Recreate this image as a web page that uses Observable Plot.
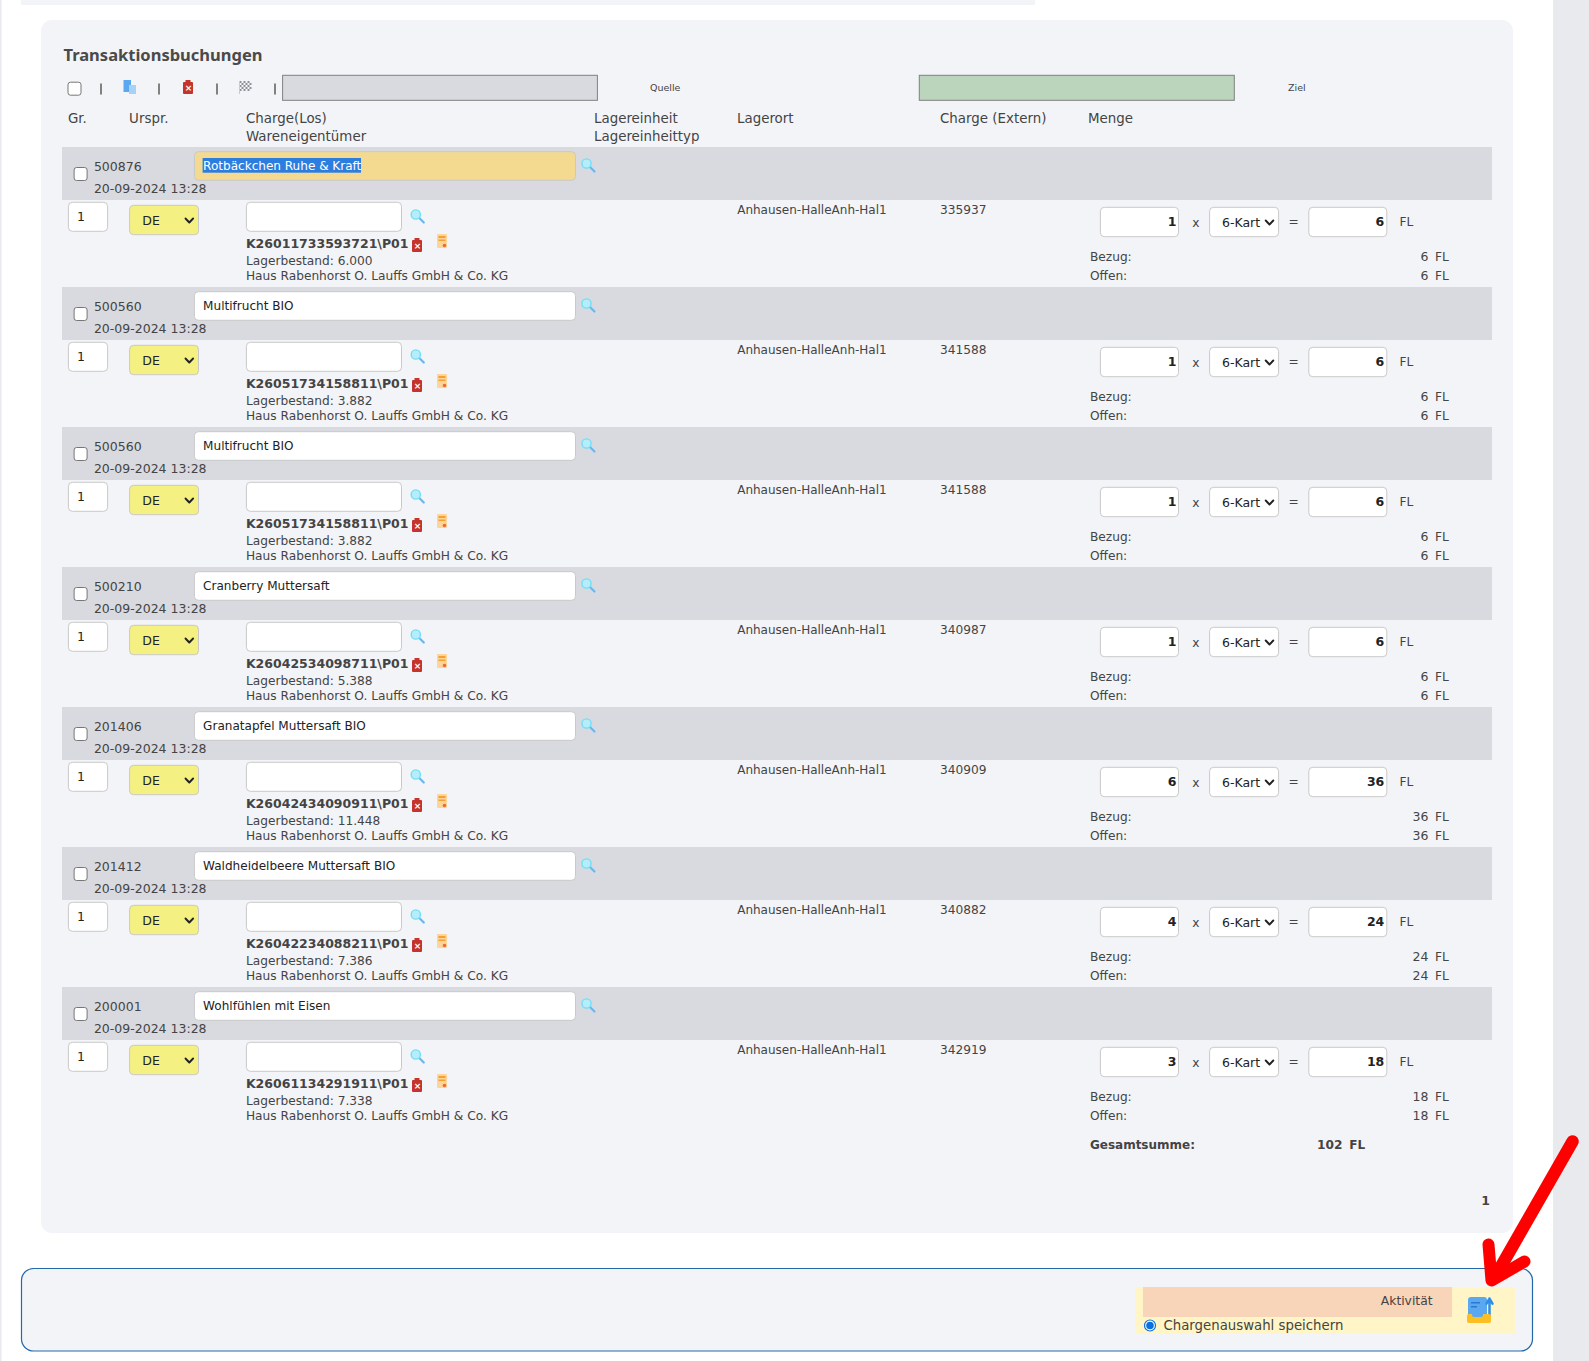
<!DOCTYPE html>
<html><head><meta charset="utf-8">
<style>html,body{margin:0;padding:0;background:#fff;overflow:hidden}svg{display:block}</style>
<script src="https://cdn.jsdelivr.net/npm/d3@7"></script>
<script src="https://cdn.jsdelivr.net/npm/@observablehq/plot@0.6"></script>
</head><body><div id="c"></div>
<script>
// ---- values ----
const codes = ["500876","500560","500560","500210","201406","201412","200001"];
const names = ["Rotbäckchen Ruhe & Kraft","Multifrucht BIO","Multifrucht BIO","Cranberry Muttersaft","Granatapfel Muttersaft BIO","Waldheidelbeere Muttersaft BIO","Wohlfühlen mit Eisen"];
const charges = ["K26011733593721\\P01","K26051734158811\\P01","K26051734158811\\P01","K26042534098711\\P01","K26042434090911\\P01","K26042234088211\\P01","K26061134291911\\P01"];
const stocks = ["6.000","3.882","3.882","5.388","11.448","7.386","7.338"];
const externs = ["335937","341588","341588","340987","340909","340882","342919"];
const quantities = [1,1,1,1,6,4,3];
const totals = [6,6,6,6,36,24,18];
const rowDate = "20-09-2024 13:28";
const rowOwner = "Haus Rabenhorst O. Lauffs GmbH & Co. KG";
const rowPlace = "Anhausen-HalleAnh-Hal1";
const headers1 = ["Gr.","Urspr.","Charge(Los)","Lagereinheit","Lagerort","Charge (Extern)","Menge"];
const headers2 = ["Wareneigentümer","Lagereinheittyp"];

// ---- layout ----
const W = 1589, H = 1361;
const F = "DejaVu Sans";
const rowTop = d3.scaleLinear().domain([0,1]).range([147,287]);
const rows = codes.map((code,i)=>({i,code,name:names[i],charge:charges[i],stock:stocks[i],ext:externs[i],q:quantities[i],t:totals[i]}));
const yr = off => d => rowTop(d.i)+off;
const C = {gray:"#d9dadf",panel:"#f3f4f8",border:"#c9c9c9",text:"#444"};

const box = (x1,x2,y1,y2,o={}) => Plot.rect([0],{x1:()=>x1,x2:()=>x2,y1:()=>y1,y2:()=>y2,...o});
const rowBox = (x1,x2,o1,o2,o={}) => Plot.rect(rows,{x1:()=>x1,x2:()=>x2,y1:yr(o1),y2:yr(o2),rx:4,fill:"#fff",stroke:C.border,strokeWidth:1,...o});
const label = (s,x,y,o={}) => Plot.text([s],{x:()=>x,y:()=>y,text:d=>d,textAnchor:"start",fontFamily:F,fontSize:12.2,fill:C.text,...o});
const rowText = (f,x,off,o={}) => Plot.text(rows,{x:()=>x,y:yr(off),text:f,textAnchor:"start",fontFamily:F,fontSize:12.2,fill:C.text,...o});

function magnifiers(ax,off){return [
  Plot.link(rows,{x1:()=>ax+1.5,y1:d=>rowTop(d.i)+off+1.5,x2:()=>ax+6,y2:d=>rowTop(d.i)+off+6,stroke:"#6db8ea",strokeWidth:2.2,strokeLinecap:"round"}),
  Plot.dot(rows,{x:()=>ax-2,y:d=>rowTop(d.i)+off-2,r:4.6,fill:"#b5eefa",stroke:"#72def6",strokeWidth:1.4})
];}
function chevrons(ax,off){
  const pts = rows.flatMap(d=>[[-3.8,-2],[0,2],[3.8,-2]].map(([a,b])=>({i:d.i,a,b})));
  return Plot.line(pts,{x:d=>ax+d.a,y:d=>rowTop(d.i)+off+d.b,z:"i",stroke:"#222",strokeWidth:1.9,curve:"linear"});
}
function trash(list){ // list of {x,y} top-left
  return [
    Plot.rect(list,{x1:d=>d.x,x2:d=>d.x+10,y1:d=>d.y+2,y2:d=>d.y+14,rx:1,fill:"#c4342b"}),
    Plot.rect(list,{x1:d=>d.x+2.5,x2:d=>d.x+7.5,y1:d=>d.y,y2:d=>d.y+2,fill:"#c4342b"}),
    Plot.text(list,{x:d=>d.x+5,y:d=>d.y+8,text:()=>"×",fill:"#fff",fontSize:9,fontWeight:"bold",fontFamily:F})
  ];
}
const checkbox = (list)=>Plot.rect(list,{x1:d=>d.x-6.5,x2:d=>d.x+6.5,y1:d=>d.y-6.5,y2:d=>d.y+6.5,rx:2.5,fill:"#fff",stroke:"#767676",strokeWidth:1});

const flagCells = d3.cross(d3.range(6),d3.range(5)).filter(([a,b])=>(a+b)%2===0);
const barsX = [100.5,158.5,216.5,274.5];

const marks = [
  // page
  box(0,1.5,0,H,{fill:"#e9eaee"}),
  box(1553,W,0,H,{fill:"#e9eaee"}),
  box(21,1035,0,5,{fill:C.panel}),
  box(41,1513,20,1233,{fill:C.panel,rx:11}),
  // title + toolbar
  label("Transaktionsbuchungen",63,55.7,{fontFamily:"Noto Sans",fontWeight:"bold",fontSize:16.5,fill:"#4a4a4a"}),
  checkbox([{x:74.5,y:88.7}]),
  Plot.link(barsX,{x1:d=>d,x2:d=>d,y1:()=>83,y2:()=>94,stroke:"#5b5b55",strokeWidth:1.5}),
  box(123.5,131,80,92,{fill:"#5aa9f0"}),
  box(129,136,85,94,{fill:"#a6d2f8"}),
  ...trash([{x:183,y:80}]),
  Plot.rect(flagCells,{x1:d=>239.5+d[0]*2,x2:d=>241.5+d[0]*2,y1:d=>81+d[1]*2,y2:d=>83+d[1]*2,fill:"#8d9299"}),
  box(239,240,81,94,{fill:"#c5cbd2"}),
  box(282.6,597.4,75.3,100.3,{fill:C.gray,stroke:"#808080",strokeWidth:1}),
  label("Quelle",649.5,87.7,{fontSize:9.5}),
  box(919.3,1234.3,75.3,100.3,{fill:"#bbd4bc",stroke:"#808080",strokeWidth:1}),
  label("Ziel",1287.5,87.7,{fontSize:9.5}),
  // headers
  ...headers1.map((h,i)=>label(h,[67.4,128.6,245.4,593.5,736.5,939.5,1087.4][i],118.5,{fontSize:13.4})),
  ...headers2.map((h,i)=>label(h,[245.4,593.5][i],136.5,{fontSize:13.4})),
  // row bands
  Plot.rect(rows,{x1:()=>62,x2:()=>1492,y1:yr(0),y2:yr(53),fill:C.gray}),
  checkbox(rows.map(d=>({x:80.6,y:rowTop(d.i)+27}))),
  rowText(d=>d.code,93.4,19,{fontSize:12.5}),
  rowText(()=>rowDate,93.4,41,{fontSize:12.5}),
  rowBox(194.4,575.5,4.7,33.3,{fill:d=>d.i===0?"#f3da90":"#fff"}),
  Plot.rect(rows.filter(d=>d.i===0),{x1:()=>202.6,x2:()=>361,y1:yr(11),y2:yr(25.7),fill:"#2b7de0"}),
  rowText(d=>d.name,202.6,18.7,{fontSize:12.05,fill:d=>d.i===0?"#fff":"#222"}),
  ...magnifiers(588,18),
  // row body
  rowBox(68.4,107.6,55.3,84.3),
  rowText(()=>"1",76.5,69.7,{fontSize:12.5,fill:"#222"}),
  rowBox(129.6,198.5,58.3,87.7,{fill:"#f5f082"}),
  rowText(()=>"DE",141.8,73.7,{fontSize:12.5,fill:"#222"}),
  chevrons(188.8,73),
  rowBox(246.4,401.5,55.3,84.3),
  ...magnifiers(417.3,69),
  rowText(d=>d.charge,245.4,96.7,{fontSize:12.5,fontWeight:"bold"}),
  ...trash(rows.map(d=>({x:412,y:rowTop(d.i)+91}))),
  Plot.rect(rows,{x1:()=>437,x2:()=>447,y1:yr(87),y2:yr(101),rx:1,fill:"#fdd49a"}),
  Plot.rect(rows,{x1:()=>438.5,x2:()=>445.5,y1:yr(89),y2:yr(91),fill:"#f5a033"}),
  Plot.rect(rows,{x1:()=>438.5,x2:()=>445.5,y1:yr(92.5),y2:yr(94),fill:"#f5a033"}),
  Plot.dot(rows,{x:()=>444,y:yr(98),r:1.8,fill:"#ee6a3a"}),
  rowText(d=>"Lagerbestand: "+d.stock,245.4,113.7),
  rowText(()=>rowOwner,245.4,128.7),
  rowText(()=>rowPlace,736.7,62.7,{fontSize:12}),
  rowText(d=>d.ext,939.5,62.7),
  rowBox(1100.4,1178.5,60.3,89.7),
  rowText(d=>d.q,1176,74.5,{fontSize:12.5,textAnchor:"end",fontWeight:"bold",fill:"#222"}),
  rowText(()=>"x",1195.4,76,{textAnchor:"middle"}),
  rowBox(1209.6,1278.6,60.3,89.7),
  rowText(()=>"6-Kart",1221.5,75,{fontSize:12.5,fill:"#222"}),
  chevrons(1269,75),
  rowText(()=>"=",1293.2,75,{textAnchor:"middle"}),
  rowBox(1308.8,1386.8,60.3,89.7),
  rowText(d=>d.t,1383.8,74.5,{fontSize:12.5,textAnchor:"end",fontWeight:"bold",fill:"#222"}),
  rowText(()=>"FL",1399,75),
  rowText(()=>"Bezug:",1089.4,109.7),
  rowText(()=>"Offen:",1089.4,128.7),
  rowText(d=>d.t,1428,109.7,{fontSize:12.5,textAnchor:"end"}),
  rowText(d=>d.t,1428,128.7,{fontSize:12.5,textAnchor:"end"}),
  rowText(()=>"FL",1434.6,109.7),
  rowText(()=>"FL",1434.6,128.7),
  // totals
  label("Gesamtsumme:",1089.4,1144.7,{fontWeight:"bold",fontSize:12}),
  label(String(d3.sum(totals)),1342,1144.7,{fontWeight:"bold",fontSize:12.2,textAnchor:"end"}),
  label("FL",1348.8,1144.7,{fontWeight:"bold",fontSize:12}),
  label("1",1485,1200.7,{fontWeight:"bold",fontSize:12.5,textAnchor:"middle"}),
  // bottom box
  box(21.5,1532.5,1268.5,1351,{fill:C.panel,stroke:"#2469ab",strokeWidth:1.2,rx:12}),
  box(1135,1515,1287,1334,{fill:"#fff5c6"}),
  box(1143,1452,1287,1317,{fill:"#f8d4b8"}),
  label("Aktivität",1432,1301,{textAnchor:"end",fontSize:12.3}),
  Plot.dot([0],{x:()=>1149.5,y:()=>1325,r:5.5,fill:"#fff",stroke:"#0a6fe0",strokeWidth:1.2}),
  Plot.dot([0],{x:()=>1149.5,y:()=>1325,r:3.8,fill:"#0a6fe0"}),
  label("Chargenauswahl speichern",1163,1325,{fontSize:13.3}),
  box(1468,1487,1297,1319,{fill:"#5aa9f0",rx:3}),
  box(1471,1480,1302,1303.5,{fill:"#2a78d0"}),
  box(1471,1477,1306,1307.5,{fill:"#2a78d0"}),
  Plot.arrow([0],{x1:()=>1489,y1:()=>1316,x2:()=>1489,y2:()=>1298,stroke:"#2f8fe8",strokeWidth:2.5,headLength:7}),
  box(1467,1491,1314,1323,{fill:"#fbbf24",rx:2}),
  box(1472,1483,1312,1317,{fill:"#5aa9f0",rx:2}),
  // red arrow
  Plot.line([0,1],{x:d=>[1572,1497][d],y:d=>[1141,1272][d],stroke:"#ff0000",strokeWidth:12.5,strokeLinecap:"round"}),
  Plot.line([0,1,2],{x:d=>[1488,1491,1524][d],y:d=>[1244,1280,1261][d],stroke:"#ff0000",strokeWidth:12,strokeLinecap:"round",strokeLinejoin:"round",curve:"linear"})
];

const svg = Plot.plot({
  width:W,height:H,margin:0,
  x:{domain:[0,W],range:[0,W],axis:null},
  y:{domain:[0,H],range:[0,H],axis:null},
  style:{background:"#fff"},
  marks
});
document.getElementById("c").append(svg);
</script></body></html>
